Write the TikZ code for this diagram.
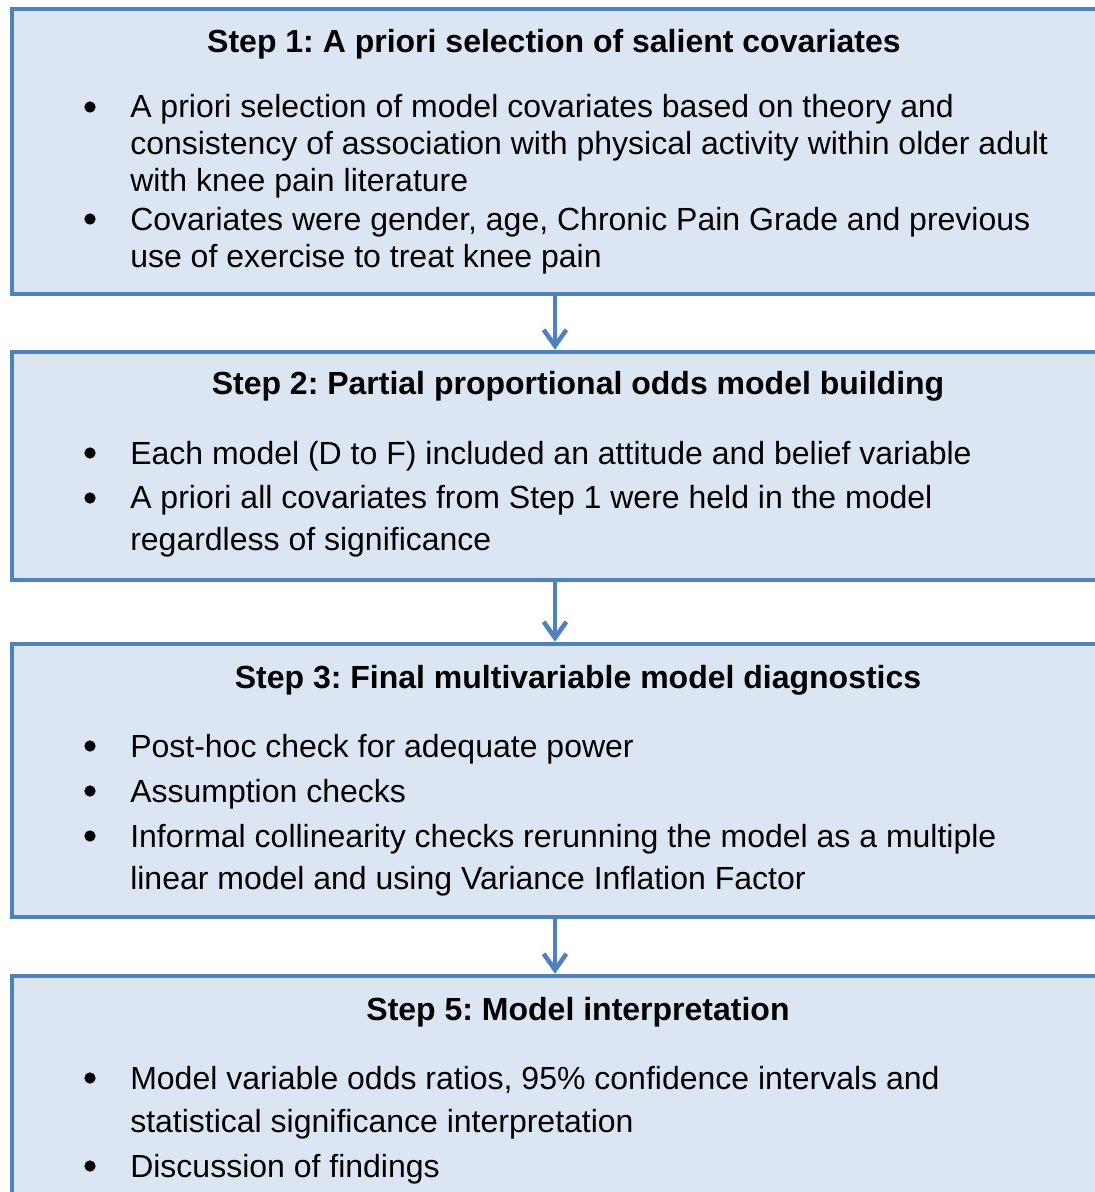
\documentclass[tikz,border=0pt]{standalone}
\usepackage{fontspec}
\setmainfont{Liberation Sans}
\frenchspacing
\usetikzlibrary{fit,positioning,arrows.meta}
\definecolor{linecolor}{RGB}{79,129,189}
\definecolor{fillcolor}{RGB}{220,230,242}

\begin{document}
\begin{tikzpicture}[%
    x=0.75pt, y=-0.75pt,        % pixel grid, y going down
    >={Straight Barb[length=12pt,width=17pt]}, % open arrow heads
    ]
\tikzset{
  stepbox/.style={draw=linecolor, fill=fillcolor, line width=3.4pt, inner sep=0pt},
  title/.style={anchor=base, inner sep=0pt, font=\fontsize{24}{28}\selectfont\bfseries},
  entry/.style={anchor=base west, inner sep=0pt, align=left, font=\fontsize{24}{#1}\selectfont},
  entry/.default=31.5pt,
  dot/.style={circle, fill=black, inner sep=0pt, minimum size=8.5pt},
  flow/.style={->, draw=linecolor, line width=3.4pt},
}

\useasboundingbox (0,0) rectangle (1095,1192);
\clip (0,0) rectangle (1095,1192);

% the four step boxes
\node [stepbox, fit={(12,9) (1098,294)}] (s1) {};
\node [stepbox, fit={(12,352) (1098,580)}] (s2) {};
\node [stepbox, fit={(12,644) (1098,917)}] (s3) {};
\node [stepbox, fit={(12,976) (1098,1210)}] (s5) {};

\draw [flow] (s1.south) -- (s2.north);
\draw [flow] (s2.south) -- (s3.north);
\draw [flow] (s3.south) -- (s5.north);

% step 1 (entries sit on the baseline of their last line)
\node [title] (t1) at (554,52) {Step 1: A priori selection of salient covariates};
\node [dot] (b11) at (90,107) {};
\node [entry=27.4pt] (e11) at (130,191) {A priori selection of model covariates based on theory and\\consistency of association with physical activity within older adult\\with knee pain literature};
\node [dot] (b12) at (90,219) {};
\node [entry=27.6pt] (e12) at (130,267) {Covariates were gender, age, Chronic Pain Grade and previous\\use of exercise to treat knee pain};

% step 2
\node [title] (t2) at (578,394) {Step 2: Partial proportional odds model building};
\node [dot] (b21) at (90,453) {};
\node [entry] (e21) at (130,464) {Each model (D to F) included an attitude and belief variable};
\node [dot] (b22) at (90,498) {};
\node [entry=31pt] (e22) at (130,550) {A priori all covariates from Step 1 were held in the model\\regardless of significance};

% step 3
\node [title] (t3) at (578,688) {Step 3: Final multivariable model diagnostics};
\node [dot] (b31) at (90,746) {};
\node [entry] (e31) at (130,757) {Post-hoc check for adequate power};
\node [dot] (b32) at (90,791) {};
\node [entry] (e32) at (130,802) {Assumption checks};
\node [dot] (b33) at (90,836) {};
\node [entry] (e33) at (130,889) {Informal collinearity checks rerunning the model as a multiple\\linear model and using Variance Inflation Factor};

% step 5
\node [title] (t5) at (578,1020) {Step 5: Model interpretation};
\node [dot] (b51) at (90,1078) {};
\node [entry=32.2pt] (e51) at (130,1132) {Model variable odds ratios, 95\% confidence intervals and\\statistical significance interpretation};
\node [dot] (b52) at (90,1166) {};
\node [entry] (e52) at (130,1177) {Discussion of findings};

\end{tikzpicture}
\end{document}
